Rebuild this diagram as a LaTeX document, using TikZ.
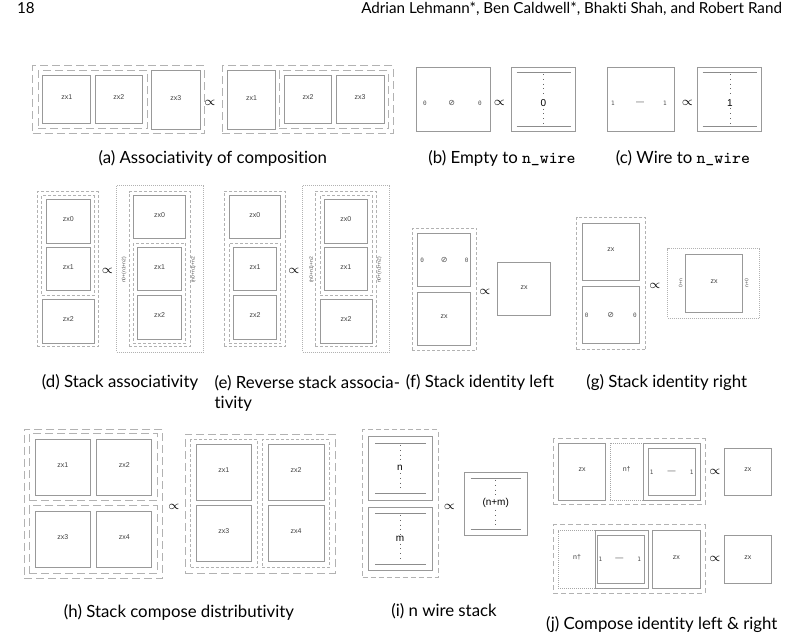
\documentclass[tikz,border=0pt]{standalone}
\usepackage{fontspec}
\setmainfont{Lato}[Ligatures={NoCommon}]
\newfontfamily\zxfont{Liberation Sans}
\newfontfamily\symfont{DejaVu Sans}
\newfontfamily\numfont{DejaVu Sans Mono}
\usetikzlibrary{fit}
\def\propsize{\fontsize{6.5}{7}\selectfont}

\begin{document}
\begin{tikzpicture}[x=0.5pt, y=-0.5pt]
    \tikzstyle{box}=[draw=black!40, line width=0.5pt, inner sep=0pt, text=black!75, font=\zxfont\fontsize{3.5}{4}\selectfont]
    \tikzstyle{grp}=[draw=black!30, line width=0.5pt, dash pattern=on 4pt off 2pt, inner sep=0pt]
    \tikzstyle{mgrp}=[grp, dash pattern=on 2.5pt off 1.5pt]
    \tikzstyle{sgrp}=[grp, dash pattern=on 1.5pt off 1pt]
    \tikzstyle{dgrp}=[grp, dash pattern=on 0.5pt off 0.5pt]
    \tikzstyle{dbox}=[box, draw=black!35, dash pattern=on 0.5pt off 0.5pt]
    \tikzstyle{prop}=[font=\propsize, inner sep=0pt]
    \tikzstyle{subcap}=[anchor=base, font=\fontsize{8.4}{10.3}\selectfont]
    \tikzstyle{hdr}=[font=\fontsize{7.6}{8}\selectfont]
    \tikzstyle{wlabel}=[font=\zxfont\fontsize{5}{5}\selectfont, inner sep=0.8pt]
    \tikzstyle{wline}=[draw=black!45, line width=0.5pt]
    \tikzstyle{wdot}=[draw=black!60, dotted, line width=0.4pt]
    \tikzstyle{tiny}=[font=\numfont\fontsize{3}{3}\selectfont, text=black!70, inner sep=0pt]
    \tikzstyle{sym}=[tiny, font=\symfont\fontsize{4}{4}\selectfont]
    \tikzstyle{side}=[rotate=90, inner sep=0pt, text=black!70, font=\zxfont\fontsize{2.5}{3}\selectfont]

    \useasboundingbox (0,0) rectangle (799,640);

    % Page header
    \node[hdr, anchor=base west] (page) at (10,14) {18};
    \node[hdr, anchor=base east] (authors) at (789,14) {Adrian Lehmann*, Ben Caldwell*, Bhakti Shah, and Robert Rand};

    % (a) associativity of composition
    \node[grp, fit={(32.7,66) (204.3,134)}] (a-l) {};
    \node[grp, fit={(38.3,71) (147.7,129)}] (a-l12) {};
    \node[box, fit={(42.7,76) (90.7,124)}] (a-l1) {zx1};
    \node[box, fit={(95,76) (142.7,124)}] (a-l2) {zx2};
    \node[box, fit={(151.7,71) (200,129.3)}] (a-l3) {zx3};
    \node[prop] (a-p) at (210,103) {$\propto$};
    \node[grp, fit={(222.3,66) (393.3,134)}] (a-r) {};
    \node[box, fit={(227.3,71) (275.7,129.3)}] (a-r1) {zx1};
    \node[grp, fit={(279.3,71) (388.3,129)}] (a-r23) {};
    \node[box, fit={(284.3,76) (331.7,124)}] (a-r2) {zx2};
    \node[box, fit={(336,76) (384,124)}] (a-r3) {zx3};
    \node[subcap] (a-cap) at (212.8,163.5) {(a) Associativity of composition};

    % (b) empty to n_wire
    \node[box, fit={(416,67.3) (490.7,131.7)}] (b-l) {};
    \node[tiny] (b-l0) at (425,103) {0};
    \node[sym] (b-le) at (451.7,103) {⊘};
    \node[tiny] (b-l0r) at (480,103) {0};
    \node[prop] (b-p) at (499.3,103) {$\propto$};
    \node[box, fit={(511,67.3) (575.7,131.7)}] (b-r) {};
    \node[wlabel] (b-n) at (543.3,103) {0};
    \draw[wline] (516.7,72.7) -- (570.7,72.7);
    \draw[wline] (516.7,126.7) -- (570.7,126.7);
    \draw[wdot] (543.3,74) -- (b-n.north);
    \draw[wdot] (b-n.south) -- (543.3,125);
    \node[subcap] (b-cap) at (502,163.5) {(b) Empty to \texttt{n\_wire}};

    % (c) wire to n_wire
    \node[box, fit={(607.3,67.3) (674,131.7)}] (c-l) {};
    \node[tiny] (c-l1) at (613,103) {1};
    \node[tiny, font=\zxfont\fontsize{4}{4}\selectfont] (c-lw) at (640,103) {—};
    \node[tiny] (c-l1r) at (665,103) {1};
    \node[prop] (c-p) at (687.3,103) {$\propto$};
    \node[box, fit={(697.7,67.3) (761.7,131.7)}] (c-r) {};
    \node[wlabel] (c-n) at (730,103) {1};
    \draw[wline] (702.7,72.7) -- (756.7,72.7);
    \draw[wline] (702.7,126.7) -- (756.7,126.7);
    \draw[wdot] (730,74) -- (c-n.north);
    \draw[wdot] (c-n.south) -- (730,125);
    \node[subcap] (c-cap) at (683,163.5) {(c) Wire to \texttt{n\_wire}};

    % (d) stack associativity
    \node[sgrp, fit={(37.3,191.7) (98.3,346.7)}] (d-l) {};
    \node[sgrp, fit={(41.7,195.7) (94,295.7)}] (d-l01) {};
    \node[box, fit={(46.7,199.3) (90,243.3)}] (d-l0) {zx0};
    \node[box, fit={(46.7,247.3) (90,291)}] (d-l1) {zx1};
    \node[box, fit={(42.3,299.3) (94.3,343.3)}] (d-l2) {zx2};
    \node[prop] (d-p) at (107.3,271) {$\propto$};
    \node[dgrp, fit={(116.7,186) (203.3,352.3)}] (d-r) {};
    \node[sgrp, fit={(129.3,191.7) (190.7,346.7)}] (d-rc) {};
    \node[box, fit={(133.3,195.7) (185.7,239)}] (d-r0) {zx0};
    \node[sgrp, fit={(133.3,243.3) (185.7,344)}] (d-r12) {};
    \node[box, fit={(137.3,247.3) (181.7,291)}] (d-r1) {zx1};
    \node[box, fit={(137.3,295.7) (181.7,339.3)}] (d-r2) {zx2};
    \node[side] (d-rl) at (124,270) {n0+(n1+n2)};
    \node[side] (d-rr) at (193.3,270) {(n0+n1)+n2};
    \node[subcap] (d-cap) at (120,387.5) {(d) Stack associativity};

    % (e) reverse stack associativity
    \node[sgrp, fit={(224,191.7) (285.7,346.7)}] (e-l) {};
    \node[box, fit={(229,195.7) (280.7,239)}] (e-l0) {zx0};
    \node[sgrp, fit={(229,243.3) (280.7,344)}] (e-l12) {};
    \node[box, fit={(233.3,247.3) (276.7,291)}] (e-l1) {zx1};
    \node[box, fit={(233.3,295.7) (276.7,339.3)}] (e-l2) {zx2};
    \node[prop] (e-p) at (294,271) {$\propto$};
    \node[dgrp, fit={(302.7,186) (389.3,352.3)}] (e-r) {};
    \node[sgrp, fit={(315,191.7) (376.7,346.7)}] (e-rc) {};
    \node[sgrp, fit={(320,195.7) (372.3,295.7)}] (e-r01) {};
    \node[box, fit={(324,199.3) (367.7,243.3)}] (e-r0) {zx0};
    \node[box, fit={(324,247.3) (367.7,291)}] (e-r1) {zx1};
    \node[box, fit={(320,299.3) (372.3,343.3)}] (e-r2) {zx2};
    \node[side] (e-rl) at (311.7,270) {(n0+n1)+n2};
    \node[side] (e-rr) at (379.3,270) {n0+(n1+n2)};
    \node[subcap, anchor=north west, align=left, inner xsep=0pt] (e-cap) at (214.3,368) {(e) Reverse stack associa-\\tivity};

    % (f) stack identity left
    \node[sgrp, fit={(412.3,228.3) (476.7,350.7)}] (f-l) {};
    \node[box, fit={(417.3,233.3) (470.7,286.7)}] (f-le) {};
    \node[tiny] (f-l0) at (422.3,260) {0};
    \node[sym] (f-lo) at (444.3,260) {⊘};
    \node[tiny] (f-l0r) at (466.7,260) {0};
    \node[box, fit={(417.3,292.3) (470.7,345.7)}] (f-lzx) {zx};
    \node[prop] (f-p) at (485,291.7) {$\propto$};
    \node[box, fit={(497.3,262.7) (550.7,316)}] (f-r) {zx};
    \node[subcap] (f-cap) at (480,387.5) {(f) Stack identity left};

    % (g) stack identity right
    \node[sgrp, fit={(576.7,217.3) (645.7,350)}] (g-l) {};
    \node[box, fit={(582.3,223.3) (639.3,280.7)}] (g-lzx) {zx};
    \node[box, fit={(582.3,286.7) (639.3,343.3)}] (g-le) {};
    \node[tiny] (g-l0) at (586.7,315) {0};
    \node[sym] (g-lo) at (610.7,315) {⊘};
    \node[tiny] (g-l0r) at (635,315) {0};
    \node[prop] (g-p) at (655,286) {$\propto$};
    \node[dgrp, fit={(667.7,249) (759.3,318.3)}] (g-r) {};
    \node[box, fit={(685.7,254.3) (742.3,312.3)}] (g-rzx) {zx};
    \node[side] (g-rl) at (680.7,283) {0+n};
    \node[side] (g-rr) at (746.7,283) {n+0};
    \node[subcap] (g-cap) at (666.7,387.5) {(g) Stack identity right};

    % (h) stack compose distributivity
    \node[grp, fit={(24,429.3) (162.7,578.3)}] (h-l) {};
    \node[grp, fit={(29.3,434) (157.7,501)}] (h-l12) {};
    \node[box, fit={(35,440) (90.7,495.7)}] (h-l1) {zx1};
    \node[box, fit={(96.7,440) (151.7,495.7)}] (h-l2) {zx2};
    \node[grp, fit={(29.3,506) (157.7,573.3)}] (h-l34) {};
    \node[box, fit={(35,511.7) (90.7,567.3)}] (h-l3) {zx3};
    \node[box, fit={(96.7,511.7) (151.7,567.3)}] (h-l4) {zx4};
    \node[prop] (h-p) at (174,506.7) {$\propto$};
    \node[grp, fit={(185,434.3) (335,573.3)}] (h-r) {};
    \node[sgrp, fit={(190.7,440) (257.3,567.7)}] (h-r13) {};
    \node[box, fit={(196,445) (251.7,501)}] (h-r1) {zx1};
    \node[box, fit={(196,506) (251.7,561.7)}] (h-r3) {zx3};
    \node[sgrp, fit={(262.3,440) (329.3,567.7)}] (h-r24) {};
    \node[box, fit={(268.3,445) (324,501)}] (h-r2) {zx2};
    \node[box, fit={(268.3,506) (324,561.7)}] (h-r4) {zx4};
    \node[subcap] (h-cap) at (179,618) {(h) Stack compose distributivity};

    % (i) n wire stack
    \node[mgrp, fit={(362.7,430) (438.3,577.3)}] (i-l) {};
    \node[box, fit={(368.3,436.7) (432.7,500.7)}] (i-ln) {};
    \node[wlabel] (i-n) at (400,468.3) {n};
    \draw[wline] (375,443.3) -- (426,443.3);
    \draw[wline] (375,494) -- (426,494);
    \draw[wdot] (400,445) -- (i-n.north);
    \draw[wdot] (i-n.south) -- (400,492);
    \node[box, fit={(368.3,507.3) (432.7,570.7)}] (i-lm) {};
    \node[wlabel] (i-m) at (400,539) {m};
    \draw[wline] (375,513.3) -- (426,513.3);
    \draw[wline] (375,564.3) -- (426,564.3);
    \draw[wdot] (400,515) -- (i-m.north);
    \draw[wdot] (i-m.south) -- (400,562.5);
    \node[prop] (i-p) at (449.3,506.7) {$\propto$};
    \node[box, fit={(464,472.3) (527.7,536)}] (i-r) {};
    \node[wlabel] (i-nm) at (495.7,503.3) {(n+m)};
    \draw[wline] (470.7,478.3) -- (520.7,478.3);
    \draw[wline] (470.7,529.3) -- (520.7,529.3);
    \draw[wdot] (495.7,480) -- (i-nm.north);
    \draw[wdot] (i-nm.south) -- (495.7,527.5);
    \node[subcap] (i-cap) at (444,617) {(i) n wire stack};

    % (j) compose identity left & right
    \node[mgrp, fit={(553.3,439) (705,505)}] (j-t) {};
    \node[box, fit={(558.3,443.3) (605.7,500.7)}] (j-tzx) {zx};
    \node[dbox, fit={(610,443.3) (643.3,500.7)}] (j-tn) {n†};
    \node[box, fit={(643.3,443.3) (700,500.7)}] (j-tw) {};
    \node[box, fit={(648.3,448.3) (695.7,495.7)}] (j-tw1) {};
    \node[tiny] (j-t1) at (651.7,472) {1};
    \node[tiny, font=\zxfont\fontsize{4}{4}\selectfont] (j-tww) at (671.7,472) {—};
    \node[tiny] (j-t1r) at (691.7,472) {1};
    \node[prop] (j-tp) at (715,472.3) {$\propto$};
    \node[box, fit={(724,448.3) (771.7,495.7)}] (j-tr) {zx};

    \node[mgrp, fit={(553.3,525) (705,593.3)}] (j-b) {};
    \node[dbox, fit={(558.3,530.7) (595.7,588.3)}] (j-bn) {n†};
    \node[box, fit={(595.7,530.7) (648.3,588.3)}] (j-bw) {};
    \node[box, fit={(597,535.7) (644,583.3)}] (j-bw1) {};
    \node[tiny] (j-b1) at (600.5,559) {1};
    \node[tiny, font=\zxfont\fontsize{4}{4}\selectfont] (j-bww) at (619.3,559) {—};
    \node[tiny] (j-b1r) at (639.3,559) {1};
    \node[box, fit={(652.7,530.7) (700,588.3)}] (j-bzx) {zx};
    \node[prop] (j-bp) at (715,559.3) {$\propto$};
    \node[box, fit={(724,535.7) (771.7,583.3)}] (j-br) {zx};
    \node[subcap] (j-cap) at (661.7,630) {(j) Compose identity left \& right};
\end{tikzpicture}
\end{document}
